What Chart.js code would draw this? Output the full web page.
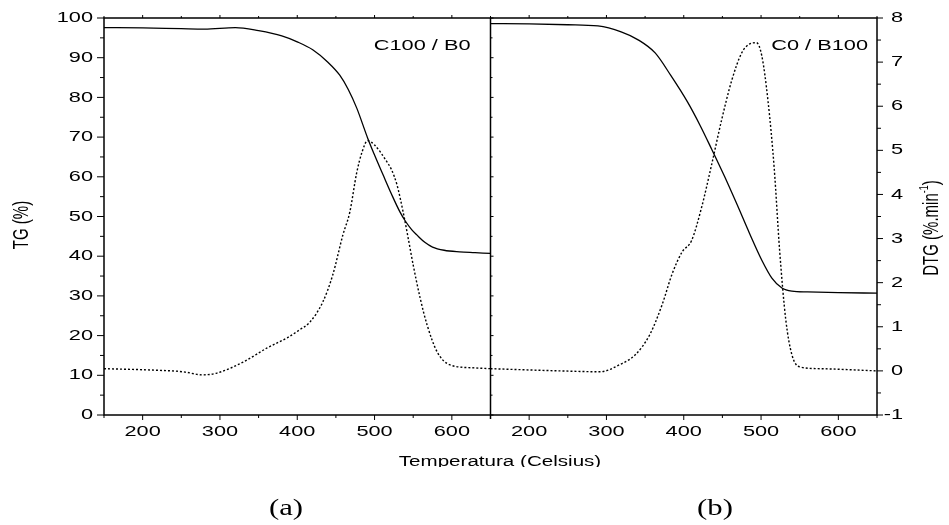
<!DOCTYPE html>
<html>
<head>
<meta charset="utf-8">
<script src="https://cdn.jsdelivr.net/npm/chart.js@4.4.1/dist/chart.umd.min.js"></script>
<style>
  html, body { margin: 0; padding: 0; background: #fff; }
  canvas { display: block; }
</style>
</head>
<body>
<canvas id="tgChart" width="949" height="525"></canvas>
<script>
// panel (a) C100 / B0
const tempTgA = [150, 200, 250, 280, 320, 350, 380, 400, 420, 440, 455, 466, 477, 491, 500, 511, 522, 533, 540, 548, 555, 565, 575, 590, 610, 630, 650];
const tgA = [97.6, 97.5, 97.3, 97.2, 97.6, 96.8, 95.5, 94.0, 92.0, 88.8, 85.6, 82.0, 77.3, 69.8, 65.5, 60.5, 55.6, 51.1, 48.8, 46.7, 45.3, 43.5, 42.3, 41.5, 41.1, 40.9, 40.7];
const tempDtgA = [150, 210, 252, 278, 296, 330, 361, 387, 403, 416, 433, 446, 459, 468, 477, 484, 491, 500, 516, 522, 529, 537, 542, 550, 559, 568, 581, 597, 627, 650];
const dtgA = [0.05, 0.02, -0.02, -0.09, -0.05, 0.2, 0.52, 0.75, 0.93, 1.1, 1.56, 2.18, 3.08, 3.6, 4.5, 4.97, 5.22, 5.12, 4.74, 4.56, 4.22, 3.6, 3.15, 2.4, 1.65, 1.04, 0.43, 0.14, 0.07, 0.05];

// panel (b) C0 / B100
const tempTgB = [150, 200, 250, 289, 319, 341, 363, 383, 405, 421, 436, 453, 469, 485, 501, 514, 527, 540, 560, 600, 650];
const tgB = [98.6, 98.5, 98.3, 98.0, 96.5, 94.5, 91.2, 85.6, 78.8, 73.0, 67.0, 60.0, 53.0, 45.8, 39.0, 34.5, 32.0, 31.2, 31.0, 30.8, 30.7];
const tempDtgB = [150, 240, 292, 317, 337, 356, 372, 385, 398, 410, 423, 436, 449, 462, 475, 485, 494, 501, 509, 517, 524, 532, 540, 550, 576, 650];
const dtgB = [0.05, 0.0, -0.02, 0.14, 0.36, 0.82, 1.5, 2.2, 2.7, 2.95, 3.7, 4.67, 5.69, 6.58, 7.21, 7.41, 7.44, 7.14, 6.12, 4.6, 2.74, 1.16, 0.36, 0.09, 0.05, 0.0];

const tempTicks = [200, 300, 400, 500, 600];
const tempMinor = [150, 250, 350, 450, 550, 650];
const tgTicks = [0, 10, 20, 30, 40, 50, 60, 70, 80, 90, 100];
const dtgTicks = [-1, 0, 1, 2, 3, 4, 5, 6, 7, 8];

const panelNames = ['C100 / B0', 'C0 / B100'];
const panelTags = ['(a)', '(b)'];

// both panels share one x scale; panel (b) sits 500 degrees further right
const SHIFT = 500;
const toPts = (xs, ys, off) => xs.map((x, i) => ({ x: x + off, y: ys[i] }));

// horizontal text is drawn a bit wide, like the original plot export
const SX = 1.45;
function wideText(ctx, str, x, y, size, align, base, family, sx) {
  ctx.save();
  ctx.translate(x, y);
  ctx.scale(sx || SX, 1);
  ctx.font = size + 'px ' + (family || '"Liberation Sans", Arial, sans-serif');
  ctx.textAlign = align;
  ctx.textBaseline = base;
  ctx.fillStyle = '#000';
  ctx.fillText(str, 0, 0);
  ctx.restore();
}

const framePlugin = {
  id: 'frame',
  afterDraw(chart) {
    const { ctx, chartArea: a, scales } = chart;
    const xs = scales.x, ys = scales.y, y2 = scales.y2;
    ctx.save();
    ctx.strokeStyle = '#000';
    ctx.lineWidth = 1.5;
    ctx.strokeRect(a.left, a.top, a.right - a.left, a.bottom - a.top);

    // divider between the two panels
    const mid = xs.getPixelForValue(650);
    ctx.beginPath();
    ctx.moveTo(mid, a.top);
    ctx.lineTo(mid, a.bottom + 4);
    ctx.stroke();

    ctx.lineWidth = 1;
    ctx.beginPath();
    // x ticks, both panels
    [0, SHIFT].forEach(off => {
      tempTicks.forEach(t => {
        const px = xs.getPixelForValue(t + off);
        ctx.moveTo(px, a.bottom); ctx.lineTo(px, a.bottom + 5);
        ctx.moveTo(px, a.top); ctx.lineTo(px, a.top - 3);
      });
      tempMinor.forEach(t => {
        const px = xs.getPixelForValue(t + off);
        ctx.moveTo(px, a.bottom); ctx.lineTo(px, a.bottom + 3);
        ctx.moveTo(px, a.top); ctx.lineTo(px, a.top - 2);
      });
    });
    // TG ticks on the left, small ones on the divider
    tgTicks.forEach(v => {
      const py = ys.getPixelForValue(v);
      ctx.moveTo(a.left, py); ctx.lineTo(a.left - 7, py);
      ctx.moveTo(mid, py); ctx.lineTo(mid + 3, py);
      if (v < 100) {
        const pm = ys.getPixelForValue(v + 5);
        ctx.moveTo(a.left, pm); ctx.lineTo(a.left - 4, pm);
        ctx.moveTo(mid, pm); ctx.lineTo(mid + 2, pm);
      }
    });
    // DTG ticks on the right
    dtgTicks.forEach(v => {
      const py = y2.getPixelForValue(v);
      ctx.moveTo(a.right, py); ctx.lineTo(a.right + 6, py);
      if (v < 8) {
        const pm = y2.getPixelForValue(v + 0.5);
        ctx.moveTo(a.right, pm); ctx.lineTo(a.right + 4, pm);
      }
    });
    ctx.stroke();

    // tick labels
    tgTicks.forEach(v => wideText(ctx, String(v), a.left - 11, ys.getPixelForValue(v), 15, 'right', 'middle'));
    dtgTicks.forEach(v => wideText(ctx, String(v), a.right + 26, y2.getPixelForValue(v), 15, 'right', 'middle'));
    [0, SHIFT].forEach(off => {
      tempTicks.forEach(t => wideText(ctx, String(t), xs.getPixelForValue(t + off), a.bottom + 9, 15, 'center', 'top'));
    });

    // panel names
    wideText(ctx, panelNames[0], mid - 20, a.top + 28, 15, 'right', 'middle');
    wideText(ctx, panelNames[1], a.right - 9, a.top + 28, 15, 'right', 'middle');

    // x title, cut off at its lower edge
    ctx.save();
    ctx.beginPath();
    ctx.rect(0, 440, chart.width, 27);
    ctx.clip();
    wideText(ctx, 'Temperatura (Celsius)', 500, a.bottom + 40, 14, 'center', 'top', null, 1.47);
    ctx.restore();

    // y titles
    ctx.save();
    ctx.translate(22, 225);
    ctx.rotate(-Math.PI / 2);
    ctx.scale(1, SX);
    ctx.font = '15px "Liberation Sans", Arial, sans-serif';
    ctx.fillStyle = '#000';
    ctx.textAlign = 'center';
    ctx.textBaseline = 'middle';
    ctx.fillText('TG (%)', 0, 0);
    ctx.restore();

    ctx.save();
    ctx.translate(932, 228);
    ctx.rotate(-Math.PI / 2);
    ctx.scale(1, SX);
    ctx.fillStyle = '#000';
    ctx.textBaseline = 'middle';
    ctx.textAlign = 'left';
    const main = 'DTG (%.min', sup = '-1', tail = ')';
    ctx.font = '15px "Liberation Sans", Arial, sans-serif';
    const w1 = ctx.measureText(main).width, w3 = ctx.measureText(tail).width;
    ctx.font = '9px "Liberation Sans", Arial, sans-serif';
    const w2 = ctx.measureText(sup).width;
    const start = -(w1 + w2 + w3) / 2;
    ctx.font = '15px "Liberation Sans", Arial, sans-serif';
    ctx.fillText(main, start, 0);
    ctx.font = '9px "Liberation Sans", Arial, sans-serif';
    ctx.fillText(sup, start + w1, -5);
    ctx.font = '15px "Liberation Sans", Arial, sans-serif';
    ctx.fillText(tail, start + w1 + w2, 0);
    ctx.restore();

    // panel tags under the plot
    [0, SHIFT].forEach((off, i) => {
      wideText(ctx, panelTags[i], off ? 715 : 286, 509, 24, 'center', 'middle', '"Liberation Serif", "Times New Roman", serif', 1.28);
    });
    ctx.restore();
  }
};

const solid = { borderColor: '#000', borderWidth: 1.3, pointRadius: 0, cubicInterpolationMode: 'monotone', yAxisID: 'y' };
const dotted = { borderColor: '#000', borderWidth: 1.4, borderDash: [2, 2], pointRadius: 0, cubicInterpolationMode: 'monotone', yAxisID: 'y2' };

new Chart(document.getElementById('tgChart').getContext('2d'), {
  type: 'line',
  data: {
    datasets: [
      { ...solid, label: 'TG a', data: toPts(tempTgA, tgA, 0) },
      { ...dotted, label: 'DTG a', data: toPts(tempDtgA, dtgA, 0) },
      { ...solid, label: 'TG b', data: toPts(tempTgB, tgB, SHIFT) },
      { ...dotted, label: 'DTG b', data: toPts(tempDtgB, dtgB, SHIFT) }
    ]
  },
  options: {
    responsive: false,
    animation: false,
    devicePixelRatio: 1,
    layout: { padding: { top: 18, left: 0, right: 0, bottom: 0 } },
    plugins: { legend: { display: false }, tooltip: { enabled: false } },
    scales: {
      x: {
        type: 'linear', min: 150, max: 1150,
        grid: { display: false }, border: { display: false },
        ticks: { display: false },
        afterFit(s) { s.height = 110; }
      },
      y: {
        position: 'left', min: 0, max: 100,
        grid: { display: false }, border: { display: false },
        ticks: { display: false },
        afterFit(s) { s.width = 104; }
      },
      y2: {
        position: 'right', min: -1, max: 8,
        grid: { display: false }, border: { display: false },
        ticks: { display: false },
        afterFit(s) { s.width = 72; }
      }
    }
  },
  plugins: [framePlugin]
});
</script>
</body>
</html>
